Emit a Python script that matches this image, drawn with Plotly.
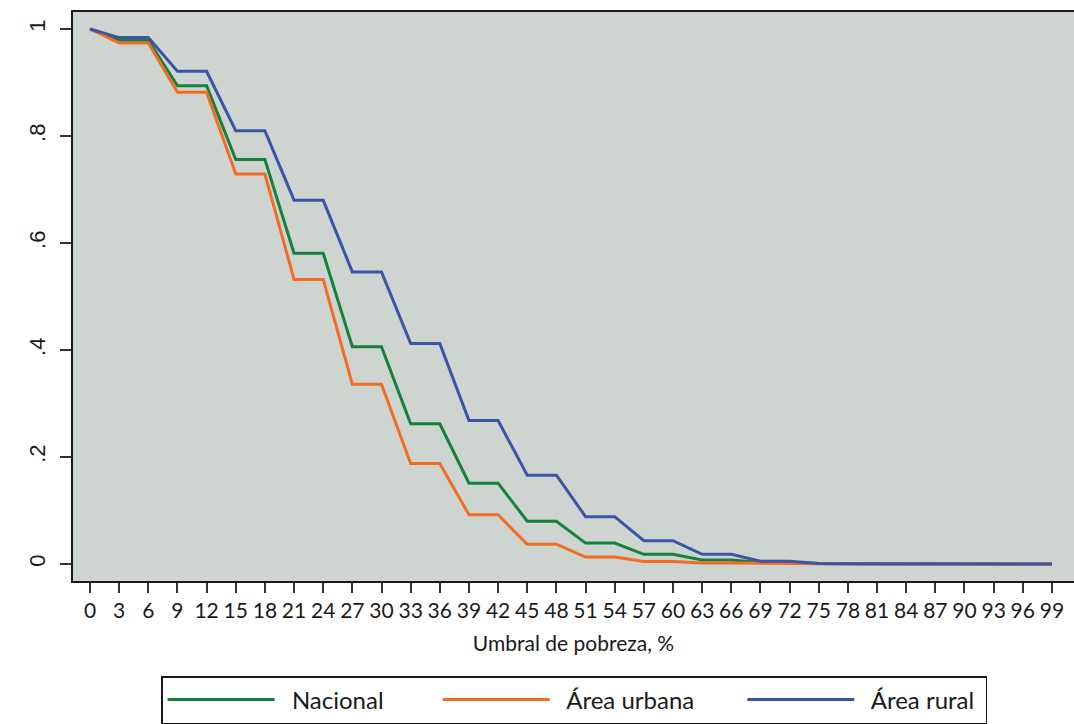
import plotly.graph_objects as go

# umbral de pobreza (%), cada 3 puntos
umbral = list(range(0, 100, 3))

nacional = [1.0, 0.979, 0.979, 0.894, 0.894, 0.756, 0.756, 0.581, 0.581, 0.406, 0.406,
            0.262, 0.262, 0.151, 0.151, 0.080, 0.080, 0.039, 0.039, 0.018, 0.018,
            0.0075, 0.0075, 0.003, 0.003, 0.001, 0.0005, 0.0003, 0.0002, 0.0001, 0.0, 0.0, 0.0, 0.0]
urbana = [1.0, 0.974, 0.974, 0.882, 0.882, 0.729, 0.729, 0.532, 0.532, 0.336, 0.336,
          0.188, 0.188, 0.092, 0.092, 0.037, 0.037, 0.013, 0.013, 0.0045, 0.0045,
          0.002, 0.002, 0.001, 0.001, 0.0005, 0.0003, 0.0002, 0.0001, 0.0, 0.0, 0.0, 0.0, 0.0]
rural = [1.0, 0.984, 0.984, 0.921, 0.921, 0.810, 0.810, 0.680, 0.680, 0.546, 0.546,
         0.412, 0.412, 0.268, 0.268, 0.166, 0.166, 0.0885, 0.0885, 0.0436, 0.0436,
         0.018, 0.018, 0.005, 0.005, 0.001, 0.0005, 0.0003, 0.0002, 0.0001, 0.0, 0.0, 0.0, 0.0]

y_ticks = [0, 0.2, 0.4, 0.6, 0.8, 1]
y_labels = ["0", ".2", ".4", ".6", ".8", "1"]

series = [
    ("Nacional", nacional, "#16803f"),
    ("Área urbana", urbana, "#f26d23"),
    ("Área rural", rural, "#3b54a5"),
]

NBSP = "\u00a0"
# spacing in the legend: (before text, after text) in non-breaking spaces
pads = [(2, 8), (2, 7), (2, 1)]

fig = go.Figure()
for (name, vals, color), (pre, post) in zip(series, pads):
    fig.add_trace(
        go.Scatter(
            x=umbral,
            y=vals,
            mode="lines",
            name=NBSP * pre + name + NBSP * post,
            line=dict(color=color, width=3),
        )
    )

fig.update_layout(
    width=1074,
    height=724,
    margin=dict(l=73, r=0, t=12, b=143, autoexpand=False),
    paper_bgcolor="#ffffff",
    plot_bgcolor="#ced5d1",
    font=dict(family="Lato", size=21, color="#1a1a1a"),
    showlegend=True,
    legend=dict(
        orientation="h",
        x=0.088,
        xanchor="left",
        y=-0.167,
        yanchor="top",
        font=dict(family="Lato", size=24, color="#1a1a1a"),
        bordercolor="#1a1a1a",
        borderwidth=1.5,
        bgcolor="#ffffff",
        itemwidth=107,
        traceorder="normal",
    ),
    xaxis=dict(
        range=[-1.75, 101.27],
        tickmode="array",
        tickvals=umbral,
        ticktext=[str(v) for v in umbral],
        ticks="outside",
        ticklen=10,
        tickwidth=1.5,
        tickcolor="#333333",
        tickfont=dict(family="Lato", size=21, color="#1a1a1a"),
        showgrid=False,
        zeroline=False,
        showline=True,
        linecolor="#1a1a1a",
        linewidth=2,
        mirror=True,
        title=dict(text="Umbral de pobreza, %", standoff=15,
                   font=dict(family="Lato", size=21, color="#1a1a1a")),
    ),
    yaxis=dict(
        range=[-0.0318, 1.0318],
        tickmode="array",
        tickvals=y_ticks,
        ticktext=y_labels,
        tickangle=-90,
        ticks="outside",
        ticklen=11,
        tickwidth=1.5,
        tickcolor="#333333",
        tickfont=dict(family="Liberation Sans", size=22, color="#1a1a1a"),
        ticklabelstandoff=6,
        showgrid=False,
        zeroline=False,
        showline=True,
        linecolor="#1a1a1a",
        linewidth=2,
        mirror=False,
    ),
)

# no page margin, so the figure fills the window exactly
fig.write_html(
    "out.html",
    config={"displayModeBar": False},
    post_script="document.body.style.margin='0px';",
)
